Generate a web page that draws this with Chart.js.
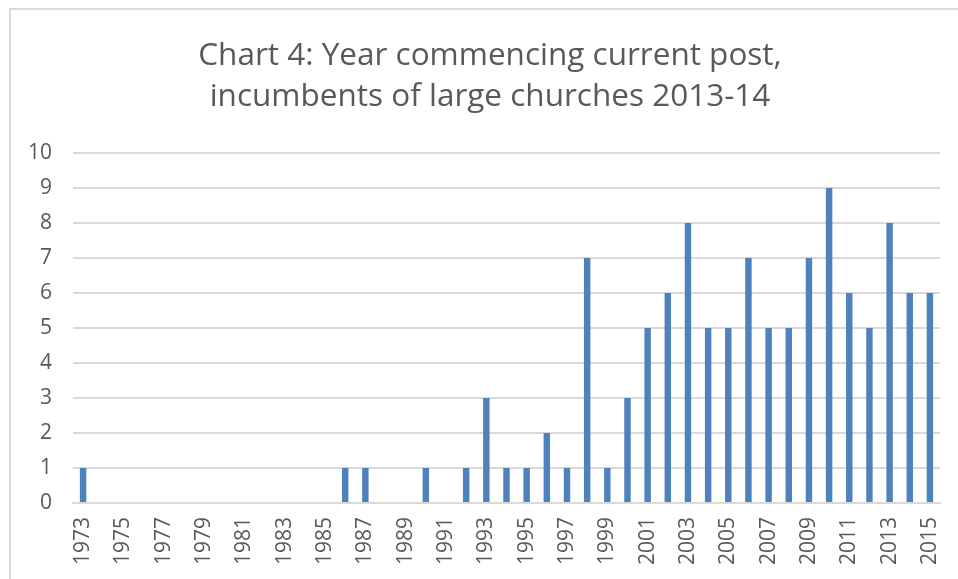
<!DOCTYPE html>
<html>
<head>
<meta charset="utf-8">
<script src="https://cdn.jsdelivr.net/npm/chart.js@4.4.1/dist/chart.umd.min.js"></script>
<style>
  html, body { margin: 0; padding: 0; background: #fff; }
  #wrap { position: relative; width: 958px; height: 579px; }
  #frame { position: absolute; left: 9px; top: 8px; right: -2px; bottom: -2px; border-top: 2px solid #d9d9d9; border-left: 2px solid #d9d9d9; }
  canvas { position: absolute; left: 0; top: 0; }
</style>
</head>
<body>
<div id="wrap">
  <div id="frame"></div>
  <canvas id="chart" width="958" height="579"></canvas>
</div>
<script>
const TITLE = ["Chart 4: Year commencing current post,", "incumbents of large churches 2013-14"];

const years = [
  "1973", "1974", "1975", "1976", "1977", "1978", "1979", "1980", "1981", "1982",
  "1983", "1984", "1985", "1986", "1987", "1988", "1989", "1990", "1991", "1992",
  "1993", "1994", "1995", "1996", "1997", "1998", "1999", "2000", "2001", "2002",
  "2003", "2004", "2005", "2006", "2007", "2008", "2009", "2010", "2011", "2012",
  "2013", "2014", "2015",
];

const counts = [
  1, 0, 0, 0, 0, 0, 0, 0, 0, 0,
  0, 0, 0, 1, 1, 0, 0, 1, 0, 1,
  3, 1, 1, 2, 1, 7, 1, 3, 5, 6,
  8, 5, 5, 7, 5, 5, 7, 9, 6, 5,
  8, 6, 6,
];

const TEXT = "#595959";
const GRID = "#d9d9d9";
const FONT = "'Open Sans', sans-serif";

// nudge the title block right so it is centred like the original
const titleShift = {
  id: "titleShift",
  afterLayout(chart) {
    if (chart.titleBlock) chart.titleBlock.left += 40;
  },
};

new Chart(document.getElementById("chart"), {
  type: "bar",
  data: {
    labels: years,
    datasets: [{
      data: counts,
      backgroundColor: "#4f81bd",
      barPercentage: 0.32,
      categoryPercentage: 1,
    }],
  },
  options: {
    responsive: false,
    animation: false,
    layout: { padding: { left: 0, right: 18, top: 0, bottom: 0 } },
    plugins: {
      legend: { display: false },
      tooltip: { enabled: false },
      title: {
        display: true,
        text: TITLE,
        color: TEXT,
        font: { family: FONT, size: 31.5, weight: "normal", lineHeight: 1.3 },
        padding: { top: 36, bottom: 35 },
      },
    },
    scales: {
      x: {
        offset: true,
        grid: { display: false, drawTicks: false },
        border: { display: true, color: GRID, width: 2 },
        ticks: {
          color: TEXT,
          font: { family: FONT, size: 21 },
          autoSkip: false,
          minRotation: 90,
          maxRotation: 90,
          padding: 14,
          callback: (value, index) => (index % 2 === 0 ? years[index] : ""),
        },
        afterFit: (scale) => {
          scale.height = 76;
          // keep the rotated end labels from shrinking the plot area
          scale.paddingLeft = 0;
          scale.paddingRight = 0;
        },
      },
      y: {
        min: 0,
        max: 10,
        grid: { color: GRID, lineWidth: 2, drawTicks: false },
        border: { display: false },
        ticks: {
          stepSize: 1,
          color: TEXT,
          font: { family: FONT, size: 21 },
          padding: 21,
        },
        afterFit: (scale) => { scale.width = 73; },
      },
    },
  },
  plugins: [titleShift],
});
</script>
</body>
</html>
